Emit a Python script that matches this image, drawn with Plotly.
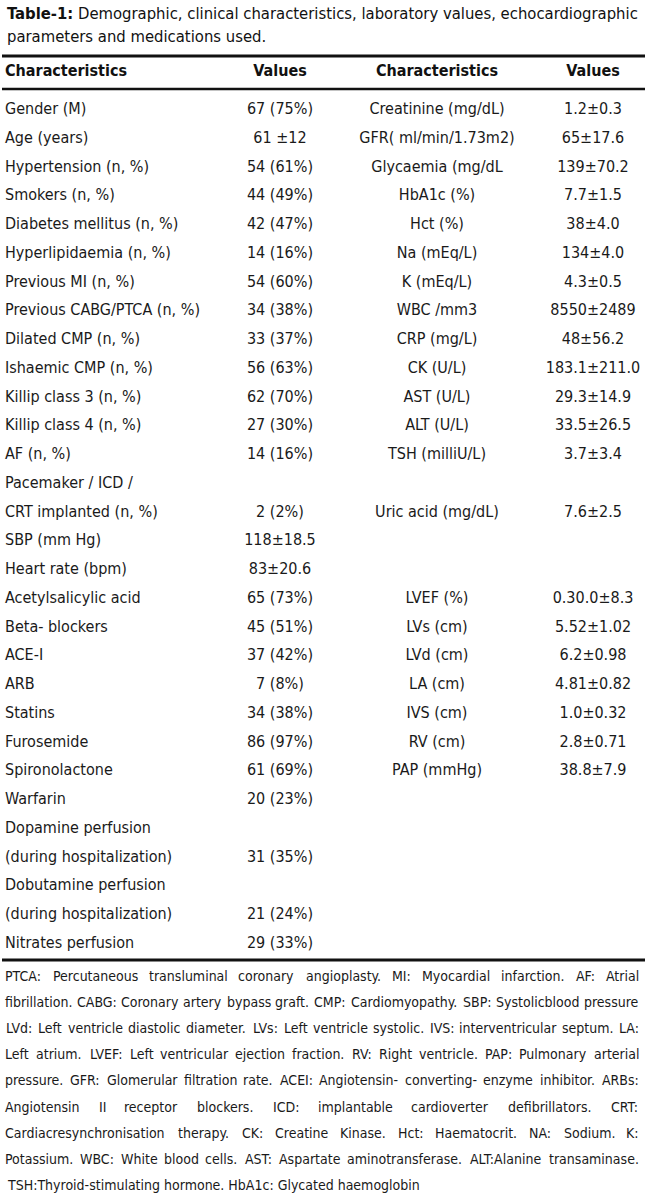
import plotly.graph_objs as go

# table body, one entry per printed line ('' = empty cell)
left_labels = [
    "Gender (M)", "Age (years)", "Hypertension (n, %)", "Smokers (n, %)",
    "Diabetes mellitus (n, %)", "Hyperlipidaemia (n, %)", "Previous MI (n, %)",
    "Previous CABG/PTCA (n, %)", "Dilated CMP (n, %)", "Ishaemic CMP (n, %)",
    "Killip class 3 (n, %)", "Killip class 4 (n, %)", "AF (n, %)",
    "Pacemaker / ICD /", "CRT implanted (n, %)", "SBP (mm Hg)", "Heart rate (bpm)",
    "Acetylsalicylic acid", "Beta- blockers", "ACE-I", "ARB", "Statins",
    "Furosemide", "Spironolactone", "Warfarin", "Dopamine perfusion",
    "(during hospitalization)", "Dobutamine perfusion",
    "(during hospitalization)", "Nitrates perfusion",
]
left_values = [
    "67 (75%)", "61 ±12", "54 (61%)", "44 (49%)", "42 (47%)", "14 (16%)",
    "54 (60%)", "34 (38%)", "33 (37%)", "56 (63%)", "62 (70%)", "27 (30%)",
    "14 (16%)", "", "2 (2%)", "118±18.5", "83±20.6", "65 (73%)", "45 (51%)",
    "37 (42%)", "7 (8%)", "34 (38%)", "86 (97%)", "61 (69%)", "20 (23%)",
    "", "31 (35%)", "", "21 (24%)", "29 (33%)",
]
right_lines = [0, 1, 2, 3, 4, 5, 6, 7, 8, 9, 10, 11, 12, 14, 17, 18, 19, 20, 21, 22, 23]
right_labels = [
    "Creatinine (mg/dL)", "GFR( ml/min/1.73m2)", "Glycaemia (mg/dL",
    "HbA1c (%)", "Hct (%)", "Na (mEq/L)", "K (mEq/L)", "WBC /mm3",
    "CRP (mg/L)", "CK (U/L)", "AST (U/L)", "ALT (U/L)", "TSH (milliU/L)",
    "Uric acid (mg/dL)", "LVEF (%)", "LVs (cm)", "LVd (cm)", "LA (cm)",
    "IVS (cm)", "RV (cm)", "PAP (mmHg)",
]
right_values = [
    "1.2±0.3", "65±17.6", "139±70.2", "7.7±1.5", "38±4.0", "134±4.0",
    "4.3±0.5", "8550±2489", "48±56.2", "183.1±211.0", "29.3±14.9",
    "33.5±26.5", "3.7±3.4", "7.6±2.5", "0.30.0±8.3", "5.52±1.02",
    "6.2±0.98", "4.81±0.82", "1.0±0.32", "2.8±0.71", "38.8±7.9",
]
headers = ["Characteristics", "Values", "Characteristics", "Values"]

title_lines = [
    "<b>Table-1:</b> Demographic, clinical characteristics, laboratory values, echocardiographic",
    "parameters and medications used.",
]
footnote_lines = [
    "PTCA: Percutaneous transluminal coronary angioplasty. MI: Myocardial infarction. AF: Atrial",
    "fibrillation. CABG: Coronary artery bypass graft. CMP: Cardiomyopathy. SBP: Systolicblood pressure",
    "LVd: Left ventricle diastolic diameter. LVs: Left ventricle systolic. IVS: interventricular septum. LA:",
    "Left atrium. LVEF: Left ventricular ejection fraction. RV: Right ventricle. PAP: Pulmonary arterial",
    "pressure. GFR: Glomerular filtration rate. ACEI: Angiotensin- converting- enzyme inhibitor. ARBs:",
    "Angiotensin II receptor blockers. ICD: implantable cardioverter defibrillators. CRT:",
    "Cardiacresynchronisation therapy.  CK: Creatine Kinase. Hct: Haematocrit. NA: Sodium. K:",
    "Potassium. WBC: White blood cells. AST: Aspartate aminotransferase. ALT:Alanine transaminase.",
    "TSH:Thyroid-stimulating hormone. HbA1c: Glycated haemoglobin",
]

W, H = 650, 1204
ROW0, ROW_H = 110, 28.75         # pixel centre of first body line, line pitch
COL_X = [5, 280, 437, 593]
FONT = "DejaVu Sans Condensed, DejaVu Sans, sans-serif"
BODY_SIZE = 16
INK = "#1a1a1a"


def row_of(px):
    return (px - ROW0) / ROW_H


fig = go.Figure()
rows = list(range(len(left_labels)))
fnt = dict(family=FONT, size=BODY_SIZE, color=INK)

fig.add_trace(go.Scatter(x=[COL_X[0]] * len(rows), y=rows, text=left_labels,
                         mode="text", textposition="middle right", textfont=fnt))
fig.add_trace(go.Scatter(x=[COL_X[1]] * len(rows), y=rows, text=left_values,
                         mode="text", textposition="middle center", textfont=fnt))
fig.add_trace(go.Scatter(x=[COL_X[2]] * len(right_lines), y=right_lines, text=right_labels,
                         mode="text", textposition="middle center", textfont=fnt))
fig.add_trace(go.Scatter(x=[COL_X[3]] * len(right_lines), y=right_lines, text=right_values,
                         mode="text", textposition="middle center", textfont=fnt))

# header row
fig.add_trace(go.Scatter(
    x=COL_X, y=[row_of(72)] * 4, text=["<b>%s</b>" % h for h in headers], mode="text",
    textposition=["middle right", "middle center", "middle center", "middle center"],
    textfont=dict(family=FONT, size=16, color="#111"),
))

# rules
for px, lw in [(56, 3), (89, 2.5), (960, 3)]:
    fig.add_shape(type="line", xref="x", yref="y", x0=2, x1=645,
                  y0=row_of(px), y1=row_of(px), line=dict(color="#111", width=lw))

# title
for i, t in enumerate(title_lines):
    fig.add_annotation(text=t, xref="x", yref="y", x=COL_X[0], y=row_of(13 + 23 * i),
                       xanchor="left", yanchor="middle", showarrow=False,
                       font=dict(family=FONT, size=16.5, color="#111"))

# footnotes, justified word by word (DejaVu Sans advance widths, condensed = 0.9)
DW = dict(zip("abcdefghijklmnopqrstuvwxyz",
              [613, 635, 550, 635, 615, 352, 635, 634, 278, 278, 579, 278, 974,
               634, 612, 635, 635, 411, 521, 392, 634, 592, 818, 592, 592, 525]))
DW.update(zip("ABCDEFGHIJKLMNOPQRSTUVWXYZ",
              [684, 686, 698, 770, 632, 575, 775, 752, 295, 295, 656, 557, 863,
               748, 787, 603, 787, 695, 635, 611, 732, 684, 989, 685, 611, 685]))
DW.update({c: 636 for c in "0123456789"})
DW.update({".": 318, ",": 318, ":": 337, "-": 361, "(": 390, ")": 390, "/": 337, "%": 950})


def em_width(word):
    return sum(DW.get(c, 600) for c in word) / 1000 * 0.9


NOTE_L, NOTE_R, MIN_GAP = 5, 639, 3.0
just = footnote_lines[:-1]
note_size = min((NOTE_R - NOTE_L - MIN_GAP * (len(l.split()) - 1)) /
                sum(em_width(w) for w in l.split()) for l in just)
note_size = min(note_size, 14)
nfont = dict(family=FONT, size=note_size, color=INK)

for i, line in enumerate(footnote_lines):
    y = row_of(976 + 26.1 * i)
    words = line.split()
    if i == len(footnote_lines) - 1:
        fig.add_annotation(text=line, xref="x", yref="y", x=NOTE_L, y=y, xanchor="left",
                           yanchor="middle", showarrow=False, font=nfont)
        continue
    widths = [em_width(w) * note_size for w in words]
    gap = (NOTE_R - NOTE_L - sum(widths)) / (len(words) - 1)
    pos = NOTE_L
    for w, wd in zip(words, widths):
        fig.add_annotation(text=w, xref="x", yref="y", x=pos + wd / 2, y=y, xanchor="center",
                           yanchor="middle", showarrow=False, font=nfont)
        pos += wd + gap

fig.update_layout(
    width=W, height=H, margin=dict(l=0, r=0, t=0, b=0),
    paper_bgcolor="white", plot_bgcolor="white", showlegend=False,
    xaxis=dict(range=[0, W], visible=False, fixedrange=True),
    yaxis=dict(range=[row_of(H), row_of(0)], visible=False, fixedrange=True),
)
fig.write_html("out.html", config={"displayModeBar": False},
               post_script="document.body.style.margin='0';document.body.style.overflow='hidden';")
